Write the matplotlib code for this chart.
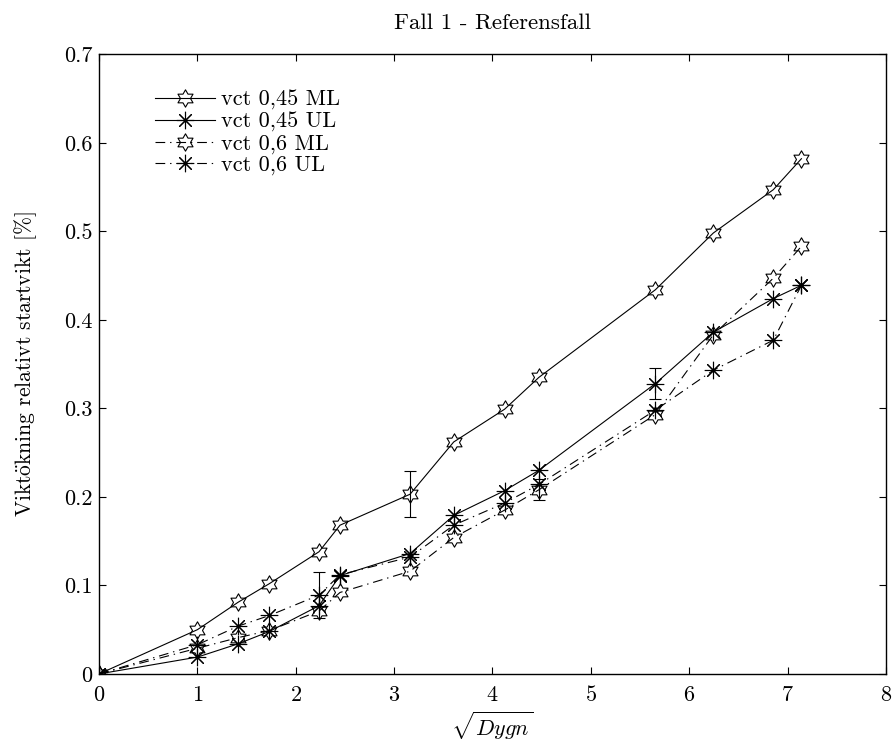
import numpy as np
import matplotlib
matplotlib.use("Agg")
import matplotlib.pyplot as plt
from matplotlib.path import Path
from matplotlib.ticker import FuncFormatter

plt.rcParams['font.family'] = ['cmr10', 'DejaVu Serif']
plt.rcParams['mathtext.fontset'] = 'cm'
plt.rcParams['axes.formatter.use_mathtext'] = True
plt.rcParams['lines.scale_dashes'] = False

# days since start; plotted against sqrt(days)
days = [0, 1, 2, 3, 5, 6, 10, 13, 17, 20, 32, 39, 47, 51]

ml_045 = [0, 0.050, 0.081, 0.102, 0.138, 0.168, 0.203, 0.262, 0.299, 0.335, 0.434, 0.498, 0.547, 0.582]
ul_045 = [0, 0.019, 0.034, 0.048, 0.077, 0.111, 0.136, 0.179, 0.207, 0.230, 0.328, 0.386, 0.424, 0.439]
ml_06 = [0, 0.029, 0.041, 0.049, 0.071, 0.092, 0.116, 0.154, 0.185, 0.208, 0.293, 0.383, 0.447, 0.483]
ul_06 = [0, 0.033, 0.054, 0.066, 0.089, 0.112, 0.132, 0.168, 0.193, 0.214, 0.298, 0.343, 0.377, 0.439]

# spread, only given at a single point per series
err_ml_045 = [0, 0, 0, 0, 0, 0, 0.026, 0, 0, 0, 0, 0, 0, 0]
err_ul_045 = [0, 0, 0, 0, 0, 0, 0, 0, 0, 0, 0.017, 0, 0, 0]
err_ml_06 = [0, 0, 0, 0, 0, 0, 0, 0, 0, 0.012, 0, 0, 0, 0]
err_ul_06 = [0, 0, 0, 0, 0.026, 0, 0, 0, 0, 0, 0, 0, 0, 0]

labels = ['vct 0,45 ML', 'vct 0,45 UL', 'vct 0,6 ML', 'vct 0,6 UL']


def hexagram():
    ang = np.pi / 2 + np.arange(12) * np.pi / 6
    rad = np.where(np.arange(12) % 2 == 0, 1.0, 1 / np.sqrt(3))
    verts = np.column_stack([rad * np.cos(ang), rad * np.sin(ang)])
    verts = np.vstack([verts, verts[:1]])
    codes = [Path.MOVETO] + [Path.LINETO] * 11 + [Path.CLOSEPOLY]
    return Path(verts, codes)


star = hexagram()
aster = (8, 2, 0)
dashdot = (0, (7, 3.5, 1, 3.5))

x = np.sqrt(days)

fig = plt.figure(figsize=(8.93, 7.43), dpi=100)
ax = fig.add_axes([0.111, 0.093, 0.881, 0.834])

series = [
    (ml_045, err_ml_045, '-', star),
    (ul_045, err_ul_045, '-', aster),
    (ml_06, err_ml_06, dashdot, star),
    (ul_06, err_ul_06, dashdot, aster),
]

for (y, err, ls, mk), lab in zip(series, labels):
    ax.plot(x, y, linestyle=ls, color='black', lw=0.8, marker=mk,
            markersize=12.5, mfc='none', mec='black', mew=0.8, label=lab)
    err = np.asarray(err)
    sel = err > 0
    ax.errorbar(x[sel], np.asarray(y)[sel], yerr=err[sel], fmt='none',
                ecolor='black', elinewidth=0.8, capsize=4, capthick=0.8)

ax.set_xlim(0, 8)
ax.set_ylim(0, 0.7)
ax.set_xticks(np.arange(0, 9))
ax.set_yticks(np.arange(0, 0.71, 0.1))
ax.yaxis.set_major_formatter(FuncFormatter(lambda v, p: '%g' % round(v, 2)))
ax.tick_params(direction='in', top=True, right=True, length=5, width=0.8,
               labelsize=16)
ax.tick_params(axis='x', pad=8)
ax.tick_params(axis='y', pad=5)
for sp in ax.spines.values():
    sp.set_linewidth(1.0)

ax.set_title('Fall 1 - Referensfall', fontsize=16.5, pad=18)
ax.set_xlabel(r'$\sqrt{Dygn}$', fontsize=16)
ax.xaxis.set_label_coords(0.5, -0.057)
ax.set_ylabel(r'Vikt$\ddot{\mathrm{o}}$kning relativt startvikt [%]', fontsize=15.5, labelpad=18)

ax.legend(loc='upper left', bbox_to_anchor=(0.051, 0.967), frameon=False,
          fontsize=16, numpoints=1, handlelength=2.7, handletextpad=0.3,
          labelspacing=0.08, borderaxespad=0.3)

fig.savefig('out.png', dpi=100)
